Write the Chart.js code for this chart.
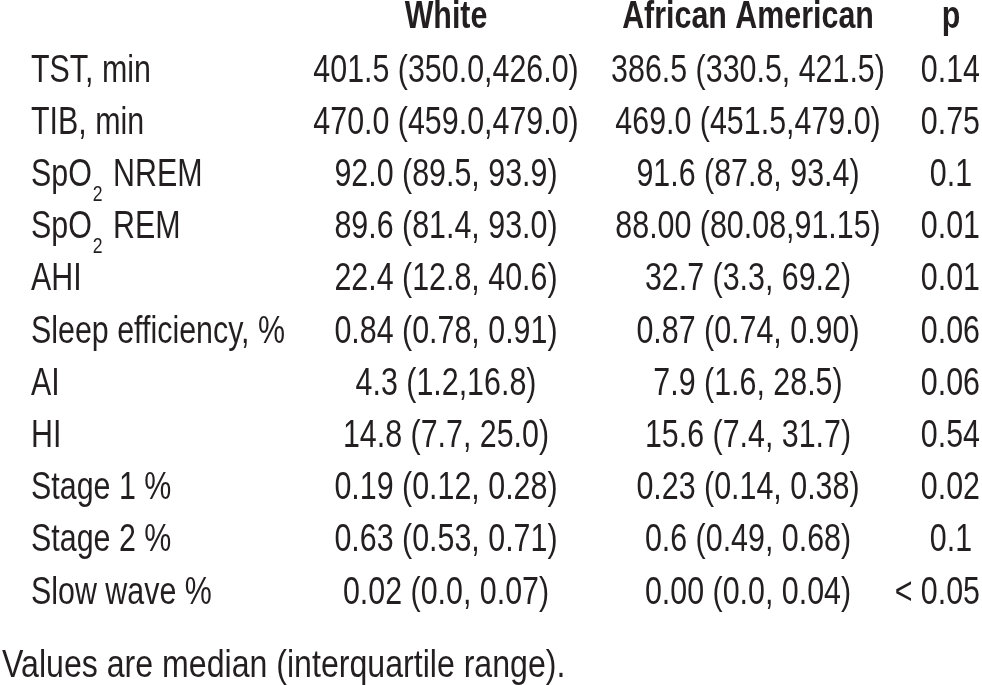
<!DOCTYPE html>
<html><head><meta charset="utf-8">
<script src="https://cdn.jsdelivr.net/npm/chart.js@4.4.1/dist/chart.umd.min.js"></script>
<style>html,body{margin:0;padding:0;background:#fff}</style>
</head><body>
<canvas id="c" width="982" height="685"></canvas>
<script>
const rowLabels = ["TST, min","TIB, min","SpO₂ NREM","SpO₂ REM","AHI","Sleep efficiency, %","AI","HI","Stage 1 %","Stage 2 %","Slow wave %"];
const columnHeaders = ["White","African American","p"];
const whiteValues = ["401.5 (350.0,426.0)","470.0 (459.0,479.0)","92.0 (89.5, 93.9)","89.6 (81.4, 93.0)","22.4 (12.8, 40.6)","0.84 (0.78, 0.91)","4.3 (1.2,16.8)","14.8 (7.7, 25.0)","0.19 (0.12, 0.28)","0.63 (0.53, 0.71)","0.02 (0.0, 0.07)"];
const africanAmericanValues = ["386.5 (330.5, 421.5)","469.0 (451.5,479.0)","91.6 (87.8, 93.4)","88.00 (80.08,91.15)","32.7 (3.3, 69.2)","0.87 (0.74, 0.90)","7.9 (1.6, 28.5)","15.6 (7.4, 31.7)","0.23 (0.14, 0.38)","0.6 (0.49, 0.68)","0.00 (0.0, 0.04)"];
const pValues = ["0.14","0.75","0.1","0.01","0.01","0.06","0.06","0.54","0.02","0.1","< 0.05"];
const footnote = "Values are median (interquartile range).";

// ---- layout / style (not data) ----
const FONT = "'Liberation Sans', Arial, sans-serif";
const SIZE = 38, SUB = 22, SX = 0.8;
const COLOR = '#231f20';
const colAnchors = [446, 748, 951];
const columns = [whiteValues, africanAmericanValues, pValues];

function fontStr(size, bold) { return (bold ? 'bold ' : '') + size + 'px ' + FONT; }
function segs(text) {
  const parts = text.split('₂'), out = [];
  parts.forEach((p, i) => {
    if (i > 0) out.push({ t: '2', sub: true });
    if (p) out.push({ t: p, sub: false });
  });
  return out;
}
function drawText(ctx, text, x, baseline, align, bold, maxRight, sx) {
  sx = sx || SX;
  const ss = segs(text);
  let total = 0;
  ss.forEach(s => {
    ctx.font = fontStr(s.sub ? SUB : SIZE, bold);
    s.w = ctx.measureText(s.t).width * sx + (s.sub ? 3 : 0);
    total += s.w;
  });
  let cx = align === 'center' ? x - total / 2 : align === 'right' ? x - total : x;
  if (maxRight !== undefined && cx + total > maxRight) cx = maxRight - total;
  ss.forEach(s => {
    ctx.save();
    ctx.font = fontStr(s.sub ? SUB : SIZE, bold);
    ctx.textAlign = 'left';
    ctx.textBaseline = 'alphabetic';
    ctx.fillStyle = COLOR;
    ctx.translate(cx + (s.sub ? 1 : 0), baseline + (s.sub ? 15 : 0));
    ctx.scale(sx, 1);
    ctx.fillText(s.t, 0, 0);
    ctx.restore();
    cx += s.w;
  });
}

const tablePlugin = {
  id: 'tableText',
  afterDatasetsDraw(chart) {
    const ctx = chart.ctx;
    const xs = chart.scales.x, ys = chart.scales.y;
    const off = 0.358 * SIZE; // cap-centre to baseline
    columnHeaders.forEach((h, i) => {
      drawText(ctx, h, xs.getPixelForValue(colAnchors[i]), xs.bottom - 14, 'center', true);
    });
    rowLabels.forEach((r, i) => {
      drawText(ctx, r, ys.left, ys.getPixelForValue(i) + off, 'left', false);
    });
    chart.data.datasets.forEach((ds, di) => {
      chart.getDatasetMeta(di).data.forEach((el, i) => {
        drawText(ctx, ds.texts[i], el.x, el.y + off, 'center', false, chart.chartArea.right - 2);
      });
    });
    drawText(ctx, footnote, 2, chart.chartArea.bottom + 61, 'left', false, undefined, 0.845);
  }
};

new Chart(document.getElementById('c'), {
  type: 'scatter',
  data: {
    datasets: columns.map((vals, ci) => ({
      label: columnHeaders[ci],
      texts: vals,
      data: rowLabels.map((r) => ({ x: colAnchors[ci], y: r })),
      pointRadius: 0,
      pointHoverRadius: 0
    }))
  },
  options: {
    responsive: false,
    animation: false,
    devicePixelRatio: 1,
    events: [],
    layout: { padding: { left: 31, top: 0, right: 0, bottom: 69 } },
    plugins: { legend: { display: false }, tooltip: { enabled: false } },
    scales: {
      x: {
        type: 'linear', position: 'top', min: 301, max: 982,
        grid: { display: false }, border: { display: false },
        ticks: { display: false },
        afterFit: (s) => { s.height = 42; }
      },
      y: {
        type: 'category', labels: rowLabels, offset: true,
        grid: { display: false }, border: { display: false },
        ticks: { display: false },
        afterFit: (s) => { s.width = 270; }
      }
    }
  },
  plugins: [tablePlugin]
});
</script>
</body></html>
